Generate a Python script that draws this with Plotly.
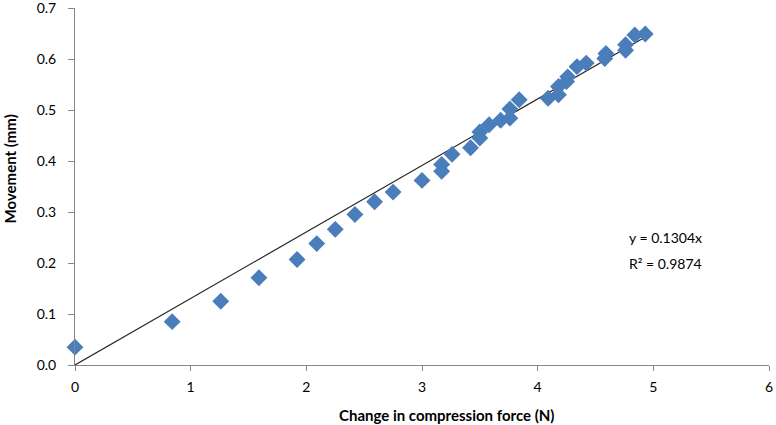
import plotly.graph_objects as go

force = [0.0, 0.84, 1.26, 1.59, 1.92, 2.09, 2.25, 2.42, 2.59, 2.75, 3.00, 3.17, 3.17, 3.26,
         3.42, 3.50, 3.50, 3.58, 3.68, 3.76, 3.76, 3.84, 4.09, 4.18, 4.18, 4.25, 4.26,
         4.34, 4.42, 4.58, 4.59, 4.76, 4.76, 4.84, 4.93]
movement = [0.035, 0.085, 0.125, 0.171, 0.207, 0.238, 0.266, 0.295, 0.320, 0.339, 0.362, 0.380,
            0.393, 0.413, 0.426, 0.445, 0.457, 0.471, 0.480, 0.484, 0.502, 0.520, 0.523,
            0.530, 0.546, 0.556, 0.565, 0.585, 0.592, 0.601, 0.611, 0.617, 0.628, 0.647, 0.649]
slope = 0.1304
r2 = 0.9874
trend_x = [0.0, 4.92]
trend_y = [slope * v for v in trend_x]
x_ticks = [0, 1, 2, 3, 4, 5, 6]
y_ticks = [0.0, 0.1, 0.2, 0.3, 0.4, 0.5, 0.6, 0.7]

FONT = "Lato, 'Open Sans', sans-serif"
AXIS_COLOR = "#868686"

fig = go.Figure()
fig.add_trace(go.Scatter(x=trend_x, y=trend_y, mode="lines",
                         line=dict(color="#262626", width=1.2), hoverinfo="skip"))
fig.add_trace(go.Scatter(x=force, y=movement, mode="markers", cliponaxis=False,
                         marker=dict(symbol="diamond", size=13, color="#4A7EBB",
                                     line=dict(width=0))))

fig.add_annotation(x=4.78, y=0.25, xref="x", yref="y", xanchor="left", yanchor="middle",
                   text=f"y = {slope}x", showarrow=False, borderpad=0,
                   font=dict(family=FONT, size=14, color="#000000"))
fig.add_annotation(x=4.78, y=0.199, xref="x", yref="y", xanchor="left", yanchor="middle",
                   text=f"R² = {r2}", showarrow=False, borderpad=0,
                   font=dict(family=FONT, size=14, color="#000000"))

# axis titles as annotations for precise placement
fig.add_annotation(x=0.536, y=-0.139, xref="paper", yref="paper", xanchor="center",
                   yanchor="middle", showarrow=False,
                   text="<b>Change in compression force (N)</b>",
                   font=dict(family=FONT, size=15, color="#000000"))
fig.add_annotation(x=-0.094, y=0.55, xref="paper", yref="paper", xanchor="center",
                   yanchor="middle", showarrow=False, textangle=-90,
                   text="<b>Movement (mm)</b>",
                   font=dict(family=FONT, size=15, color="#000000"))

fig.update_layout(
    width=776, height=425,
    margin=dict(l=75, r=7, t=8, b=60),
    paper_bgcolor="white", plot_bgcolor="white",
    showlegend=False,
    font=dict(family=FONT, size=14, color="#000000"),
)
fig.update_xaxes(
    range=[0, 6], tickvals=x_ticks, ticktext=[str(v) for v in x_ticks],
    showgrid=False, zeroline=False, showline=True, linecolor=AXIS_COLOR, linewidth=1,
    ticks="outside", ticklen=5, tickcolor=AXIS_COLOR, automargin=False,
    ticklabeloverflow="allow", ticklabelstandoff=4,
    tickfont=dict(family=FONT, size=14, color="#000000"),
)
fig.update_yaxes(
    range=[0, 0.7], tickvals=y_ticks, ticktext=[f"{v:.1f}" for v in y_ticks],
    showgrid=False, zeroline=False, showline=True, linecolor=AXIS_COLOR, linewidth=1,
    ticks="outside", ticklen=6, tickcolor=AXIS_COLOR, automargin=False,
    ticklabeloverflow="allow", ticklabelstandoff=9,
    tickfont=dict(family=FONT, size=14, color="#000000"),
)

fig.write_html("out.html", config={"displayModeBar": False},
               post_script="document.body.style.margin='0';document.body.style.overflow='hidden';")
